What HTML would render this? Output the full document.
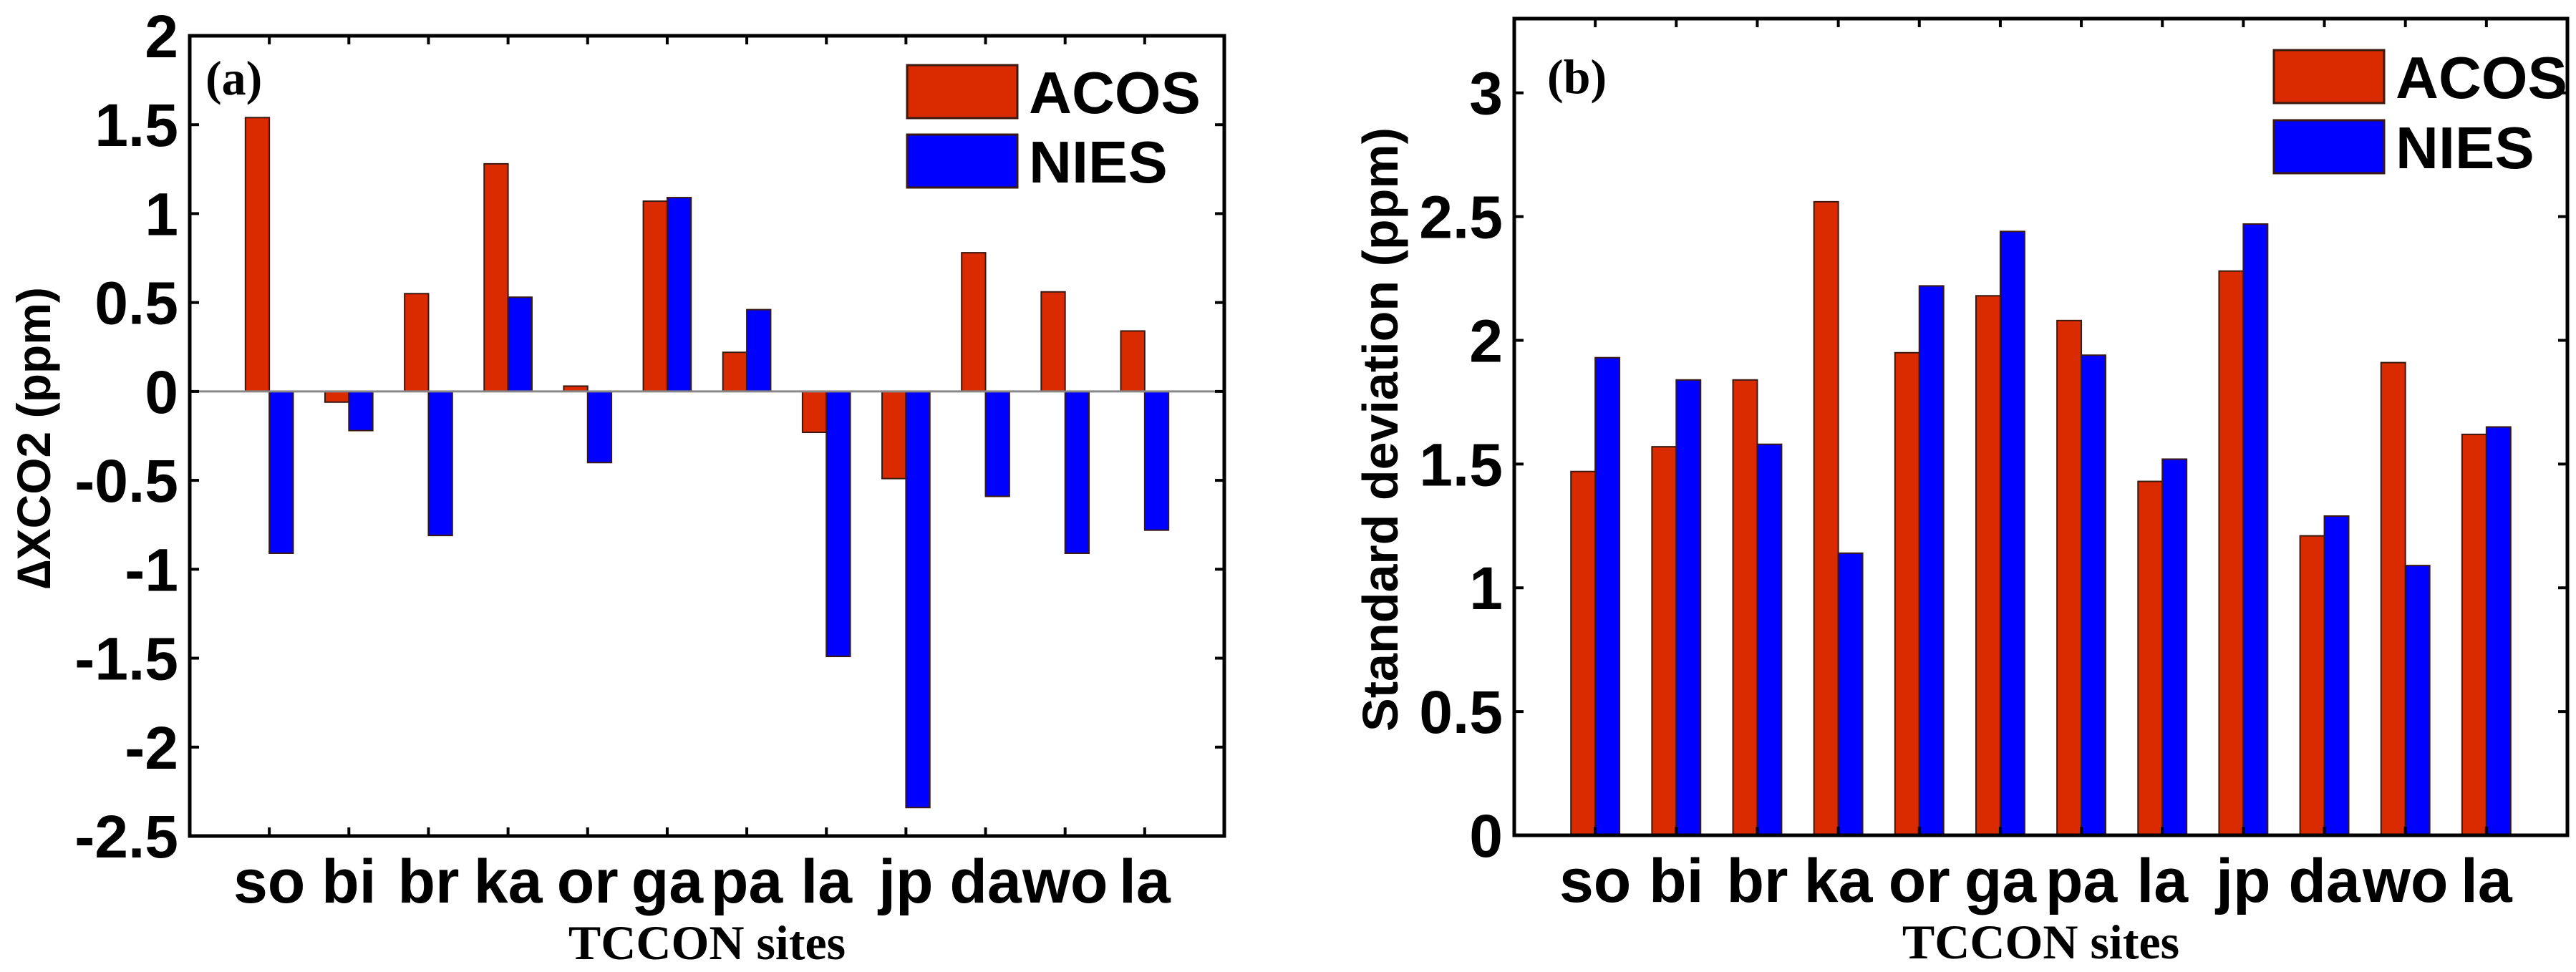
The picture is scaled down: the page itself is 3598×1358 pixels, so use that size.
<!DOCTYPE html>
<html><head><meta charset="utf-8"><style>html,body{margin:0;padding:0;background:#fff;}svg{display:block;}</style></head>
<body>
<svg id="fig" width="3598" height="1358" viewBox="0 0 3598 1358" xmlns="http://www.w3.org/2000/svg"></svg>
<script>
const sites = ["so","bi","br","ka","or","ga","pa","la","jp","da","wo","la"];
const acosBias = [1.54,-0.06,0.55,1.28,0.03,1.07,0.22,-0.23,-0.49,0.78,0.56,0.34];
const niesBias = [-0.91,-0.22,-0.81,0.53,-0.40,1.09,0.46,-1.49,-2.34,-0.59,-0.91,-0.78];
const acosStd = [1.47,1.57,1.84,2.56,1.95,2.18,2.08,1.43,2.28,1.21,1.91,1.62];
const niesStd = [1.93,1.84,1.58,1.14,2.22,2.44,1.94,1.52,2.47,1.29,1.09,1.65];
const ticksA = [2,1.5,1,0.5,0,-0.5,-1,-1.5,-2,-2.5];
const tickLabelsA = ["2","1.5","1","0.5","0","-0.5","-1","-1.5","-2","-2.5"];
const ticksB = [0,0.5,1,1.5,2,2.5,3];
const tickLabelsB = ["0","0.5","1","1.5","2","2.5","3"];

const NS="http://www.w3.org/2000/svg";
const svg=document.getElementById('fig');
function mk(tag,attrs,parent){const e=document.createElementNS(NS,tag);for(const k in attrs)e.setAttribute(k,attrs[k]);(parent||svg).appendChild(e);return e;}

function panel(cfg){
  const g=mk('g',{});
  
  
  const L=cfg.L,R=cfg.R,T=cfg.T,B=cfg.B;
  const xs=v=>L+(R-L)*v/13;
  const ys=v=>B-(B-T)*(v-cfg.ymin)/(cfg.ymax-cfg.ymin);
  const bw=(R-L)/13*0.3;
  // bars
  for(let i=0;i<sites.length;i++){
    const cx=xs(i+1);
    [[cfg.a,'#d92a00','acos'],[cfg.b,'#0000ff','nies']].forEach((s,j)=>{
      const v=s[0][i];const y0=ys(0),y1=ys(v);
      const r=mk('rect',{x:cx-bw+j*bw,y:Math.min(y0,y1),width:bw,height:Math.abs(y1-y0),fill:s[1],stroke:'#3a1a10','stroke-width':2},g);
      
      
    });
  }
  if(cfg.zero){const z=mk('line',{x1:L,x2:R,y1:ys(0),y2:ys(0),stroke:'#888','stroke-width':3},g);
    }
  // axes box
  const box=mk('rect',{x:L,y:T,width:R-L,height:B-T,fill:'none',stroke:'#000','stroke-width':5},g);
  
  // y ticks
  cfg.ticks.forEach((t,k)=>{
    const y=ys(t);
    mk('line',{x1:L,x2:L+13,y1:y,y2:y,stroke:'#000','stroke-width':4},g);
    mk('line',{x1:R,x2:R-13,y1:y,y2:y,stroke:'#000','stroke-width':4},g);
    const tx=mk('text',{x:L-16,y:y+30,'text-anchor':'end','font-family':'Liberation Sans, sans-serif','font-weight':'bold','font-size':84},g);
    tx.textContent=cfg.labels[k];
    
  });
  // x ticks
  sites.forEach((s,i)=>{
    const x=xs(i+1);
    mk('line',{x1:x,x2:x,y1:B,y2:B-12,stroke:'#000','stroke-width':4},g);
    mk('line',{x1:x,x2:x,y1:T,y2:T+12,stroke:'#000','stroke-width':4},g);
    const tx=mk('text',{x:x,y:B+93,'text-anchor':'middle','font-family':'Liberation Sans, sans-serif','font-weight':'bold','font-size':86},g);
    tx.textContent=s;
    
  });
  const xt=mk('text',{x:(L+R)/2,y:B+172,'text-anchor':'middle','font-family':'Liberation Serif, serif','font-weight':'bold','font-size':68},g);
  xt.textContent='TCCON sites';
  const yt=mk('text',{x:0,y:0,'text-anchor':'middle','font-family':'Liberation Sans, DejaVu Sans, sans-serif','font-weight':'bold','font-size':cfg.ylFs,transform:`translate(${cfg.ylX},${cfg.ylY}) rotate(-90)`},g);
  yt.textContent=cfg.ylabel;
  const pl=mk('text',{x:cfg.plX,y:cfg.plY,'font-family':'Liberation Serif, serif','font-weight':'bold','font-size':68},g);
  pl.textContent=cfg.panel;
  // legend
  const lg=mk('g',{},g);
  [['ACOS','#d92a00',cfg.lgY1],['NIES','#0000ff',cfg.lgY2]].forEach(e=>{
    const r=mk('rect',{x:cfg.lgX,y:e[2],width:154,height:74,fill:e[1],stroke:'#3a1a10','stroke-width':3},lg);
    
    const t=mk('text',{x:cfg.lgX+170,y:e[2]+67,'font-family':'Liberation Sans, sans-serif','font-weight':'bold','font-size':83},lg);
    t.textContent=e[0];
  });
}
panel({name:'chart-a-bias',L:265,R:1710,T:50,B:1168,ymin:-2.5,ymax:2,a:acosBias,b:niesBias,zero:true,
  ticks:ticksA,labels:tickLabelsA,ylabel:'\u2206XCO2 (ppm)',ylFs:66,ylX:70,ylY:612,panel:'(a)',plX:287,plY:132,
  lgX:1267,lgY1:91,lgY2:188});
panel({name:'chart-b-std',L:2115,R:3586,T:26,B:1167,ymin:0,ymax:3.3,a:acosStd,b:niesStd,zero:false,
  ticks:ticksB,labels:tickLabelsB,ylabel:'Standard deviation (ppm)',ylFs:70,ylX:1952,ylY:600,panel:'(b)',plX:2161,plY:130,
  lgX:3176,lgY1:70,lgY2:168});
</script>
</body></html>
